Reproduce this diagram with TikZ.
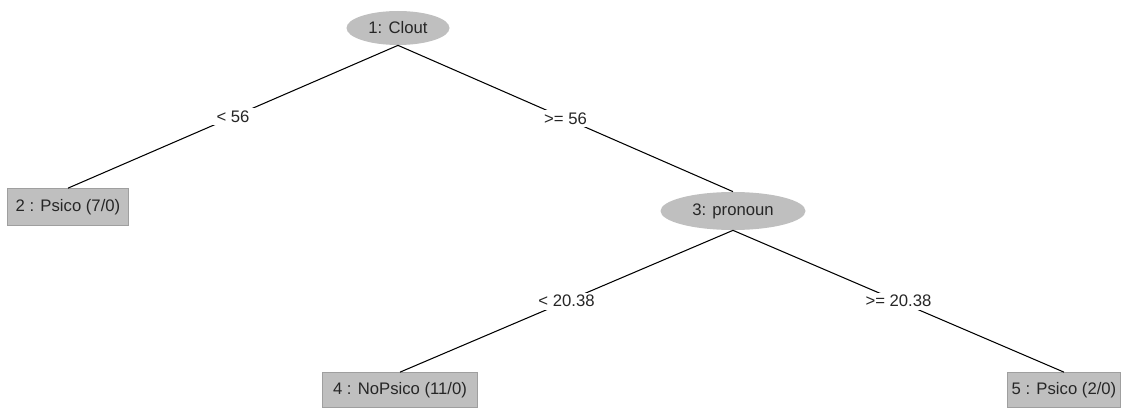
\documentclass[tikz,border=0pt]{standalone}
\usepackage{fontspec}
\setmainfont{Liberation Sans}
\usetikzlibrary{shapes.geometric}
\tikzset{%
  splitnode/.style = {shape=ellipse, fill=gray!50, inner sep=0pt,%
                      text=black!85},%
  leafnode/.style  = {shape=rectangle, fill=gray!50, draw=gray!75,%
                      line width=0.4pt, inner sep=0pt, text=black!85},%
  edgelabel/.style = {fill=white, inner xsep=0.15cm, inner ysep=0.05cm,%
                      text=black!85},%
  branch/.style    = {line width=0.6pt}%
}

\begin{document}
\begin{tikzpicture}[every node/.style = {font=\fontsize{9.5}{11}\selectfont}]%
	\useasboundingbox (0,0) rectangle (22.54,-8.2);
	% split nodes
	\node (clout)   at (7.96,-0.56) [splitnode, minimum width=2.06cm, minimum height=0.68cm] {1: Clout};%
	\node (pronoun) at (14.66,-4.22) [splitnode, minimum width=2.9cm, minimum height=0.76cm] {3: pronoun};%
	% leaves
	\node (psicoA)  at (1.36,-4.14) [leafnode, minimum width=2.42cm, minimum height=0.74cm] {2 : Psico (7/0)};%
	\node (nopsico) at (8.0,-7.8)   [leafnode, minimum width=3.1cm, minimum height=0.7cm] {4 : NoPsico (11/0)};%
	\node (psicoB)  at (21.28,-7.8) [leafnode, minimum width=2.26cm, minimum height=0.7cm] {5 : Psico (2/0)};%
	% edges
	\draw [branch] (clout.south) -- node [edgelabel] {< 56} (psicoA.north);%
	\draw [branch] (clout.south) -- node [edgelabel] {>= 56} (pronoun.north);%
	\draw [branch] (pronoun.south) -- node [edgelabel] {< 20.38} (nopsico.north);%
	\draw [branch] (pronoun.south) -- node [edgelabel] {>= 20.38} (psicoB.north);%
\end{tikzpicture}
\end{document}
